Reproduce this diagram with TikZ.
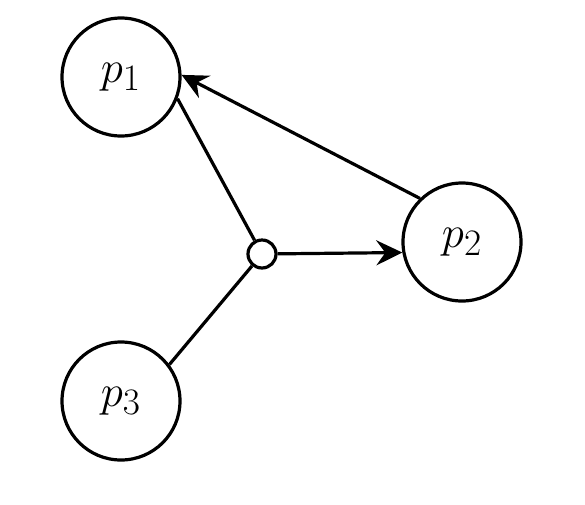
\documentclass[tikz,border=0pt]{standalone}
\usetikzlibrary{arrows.meta}
\newcommand{\plabel}[1]{\scalebox{1.8}{\Huge$#1$}}
\begin{document}
\begin{tikzpicture}[x=1pt,y=-1pt,
  proc/.style={circle,draw,line width=3.2pt,minimum size=118pt,inner sep=0pt},
  junction/.style={circle,draw,line width=3.2pt,minimum size=28pt,inner sep=0pt},
  conn/.style={line width=3.2pt},
  arr/.style={conn,-{Stealth[length=26pt,width=25pt,inset=9pt]}}]
\useasboundingbox (0,0) rectangle (585,504);
\node[proc] (p1) at (121,77) {\plabel{p_1}};
\node[proc] (p2) at (462,242) {\plabel{p_2}};
\node[proc] (p3) at (121,401) {\plabel{p_3}};
\node[junction] (c) at (262,254) {};
\draw[conn] (p1.-21) -- (c);
\draw[conn] (p3.37) -- (c);
\draw[arr] (c) -- (p2.190);
\draw[arr] (p2.134) -- (p1.2);
\end{tikzpicture}
\end{document}
